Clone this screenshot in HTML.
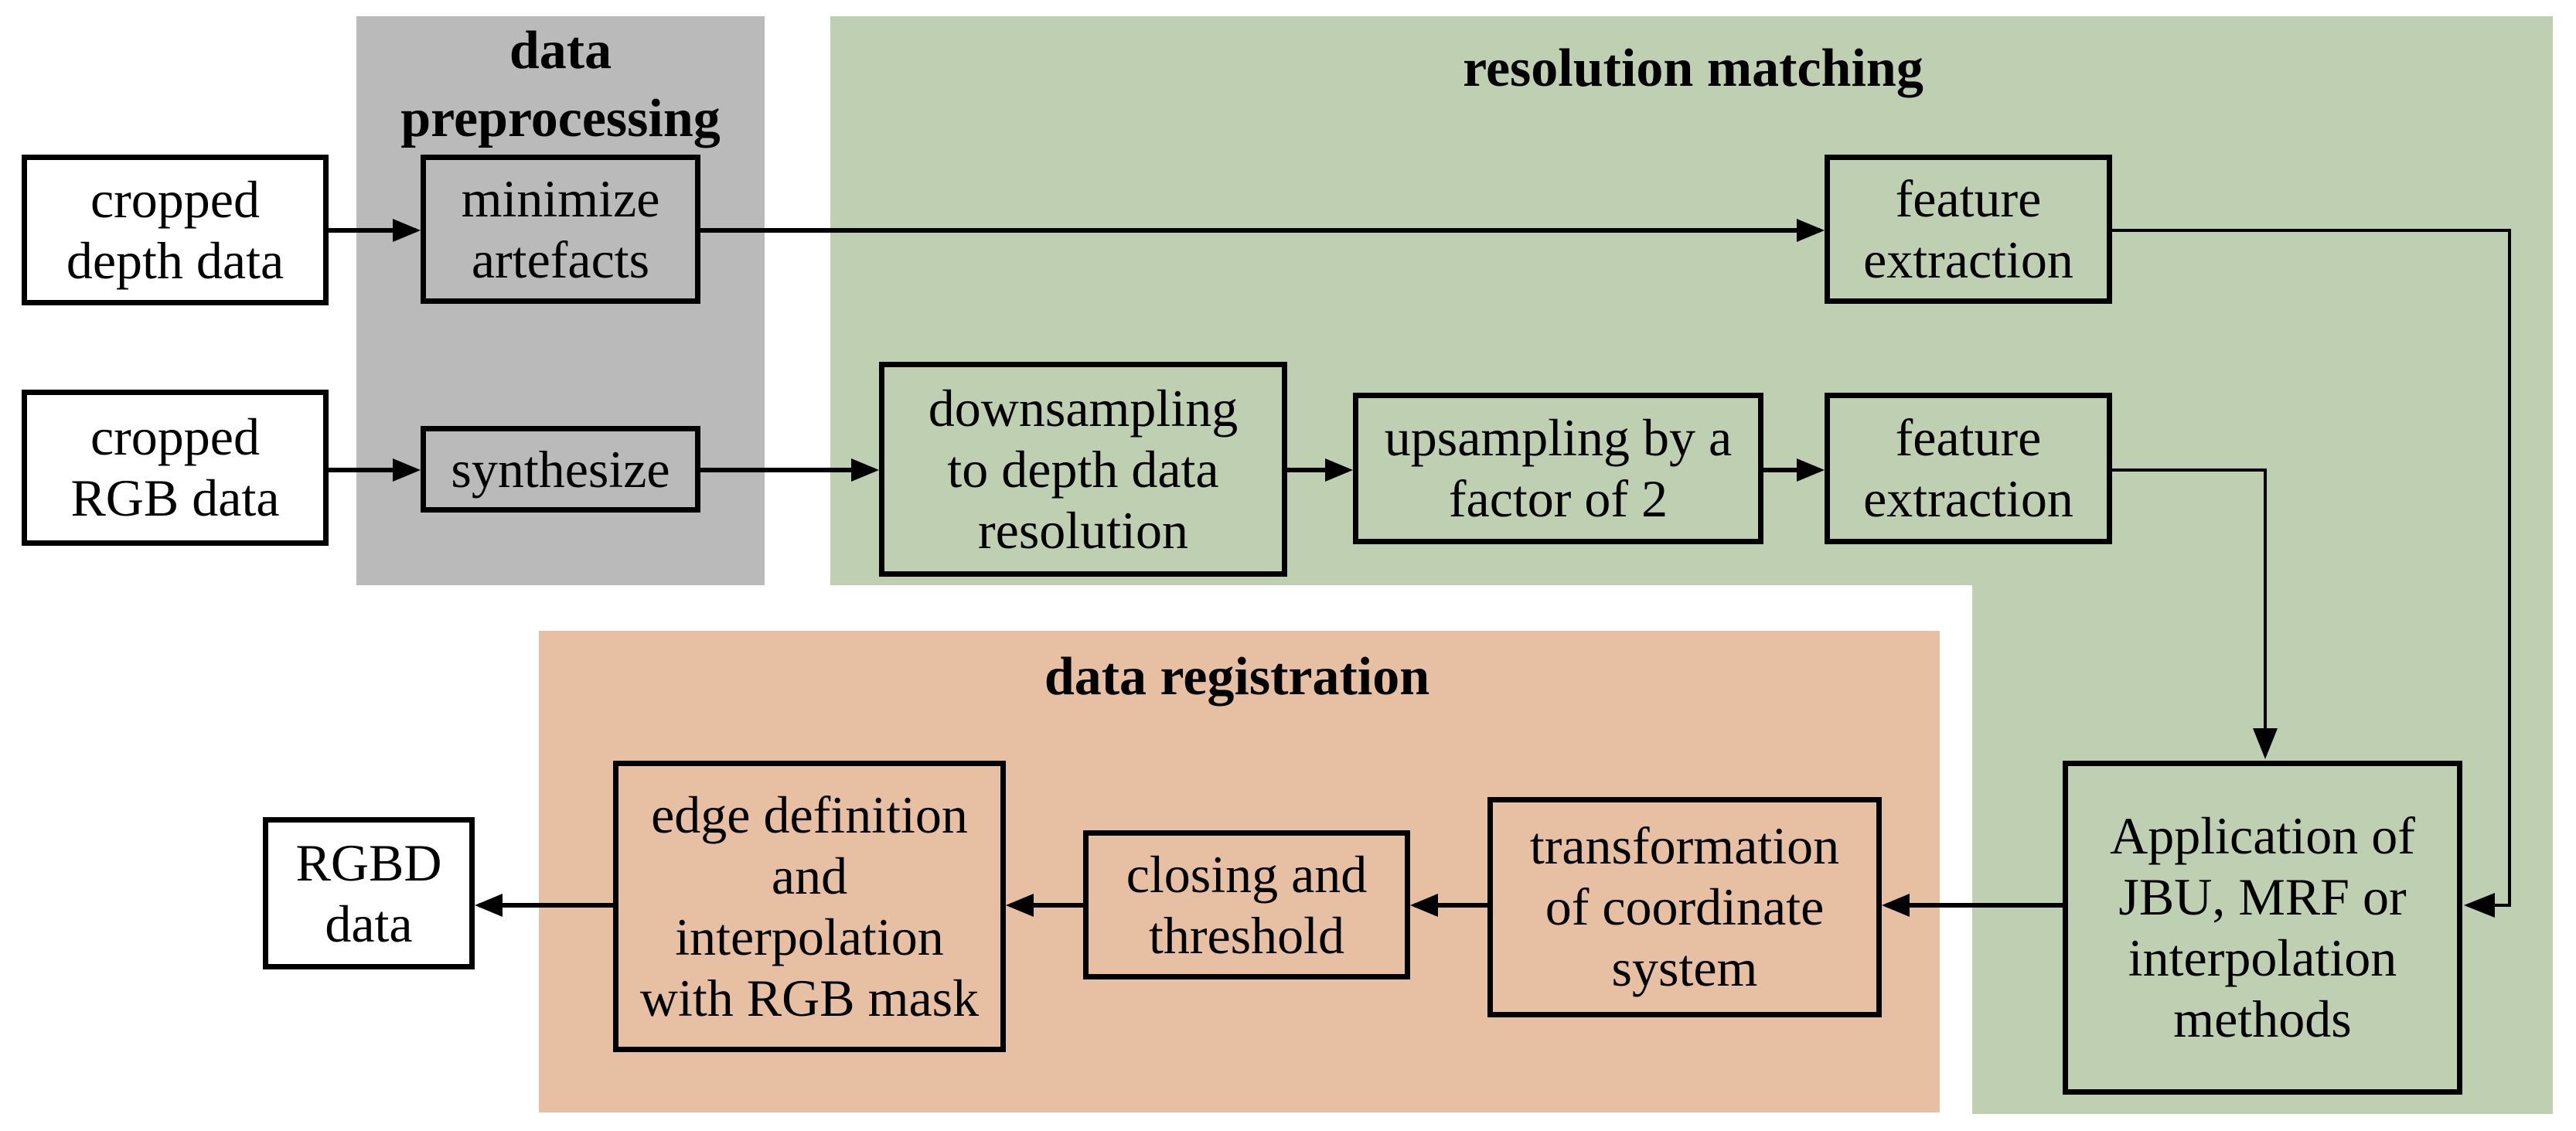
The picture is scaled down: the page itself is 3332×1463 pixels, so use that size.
<!DOCTYPE html>
<html><head><meta charset="utf-8"><style>
body{margin:0;width:3332px;height:1463px;background:#fff;position:relative;overflow:hidden;font-family:"Liberation Serif","Noto Serif CJK SC",serif;}
.p{position:absolute}
.b{position:absolute;box-sizing:border-box;border:7px solid #000;display:flex;align-items:center;justify-content:center;text-align:center;font-size:68px;line-height:79px;color:#000;font-family:"Liberation Serif","Noto Serif CJK SC",serif;font-weight:400}
.t{position:absolute;font-weight:bold;font-size:70px;line-height:88px;text-align:center;color:#000;font-family:"Liberation Serif","Noto Serif CJK SC",serif}
svg{position:absolute;left:0;top:0}
</style></head><body>
<div class="p" style="left:461px;top:21px;width:528px;height:736px;background:#bababa"></div>
<div class="p" style="left:1074px;top:21px;width:2228px;height:736px;background:#bfcfb2"></div>
<div class="p" style="left:2551px;top:740px;width:751px;height:701px;background:#bfcfb2"></div>
<div class="p" style="left:697px;top:816px;width:1812px;height:623px;background:#e7bfa3"></div>

<div class="t" style="left:461px;top:22px;width:528px">data<br>preprocessing</div>
<div class="t" style="left:1700px;top:45px;width:980px">resolution matching</div>
<div class="t" style="left:1100px;top:832px;width:1000px">data registration</div>

<svg width="3332" height="1463">
<defs><marker id="a" markerWidth="6" markerHeight="6" refX="5" refY="3" orient="auto" markerUnits="strokeWidth"><path d="M0,0.5 L6,3 L0,5.5 z" fill="#000"/></marker>
<marker id="s" markerWidth="10" markerHeight="10" refX="9" refY="5" orient="auto" markerUnits="strokeWidth"><path d="M0,1 L10,5 L0,9 z" fill="#000"/></marker></defs>
<g stroke="#000" stroke-width="6" fill="none">
<line x1="425" y1="298" x2="538" y2="298" marker-end="url(#a)"/>
<line x1="906" y1="298" x2="2354" y2="298" marker-end="url(#a)"/>
<line x1="425" y1="608" x2="538" y2="608" marker-end="url(#a)"/>
<line x1="906" y1="608" x2="1131" y2="608" marker-end="url(#a)"/>
<line x1="1665" y1="608" x2="1744" y2="608" marker-end="url(#a)"/>
<line x1="2281" y1="608" x2="2354" y2="608" marker-end="url(#a)"/>
<line x1="2668" y1="1171" x2="2440" y2="1171" marker-end="url(#a)"/>
<line x1="1924" y1="1171" x2="1830" y2="1171" marker-end="url(#a)"/>
<line x1="1401" y1="1171" x2="1307" y2="1171" marker-end="url(#a)"/>
<line x1="793" y1="1171" x2="620" y2="1171" marker-end="url(#a)"/>
</g>
<g stroke="#000" stroke-width="4" fill="none">
<polyline points="2732,298 3246,298 3246,1171 3191,1171" marker-end="url(#s)"/>
<polyline points="2732,608 2930,608 2930,978" marker-end="url(#s)"/>
</g>
</svg>

<div class="b" style="left:28px;top:200px;width:397px;height:195px;background:#fff">cropped<br>depth data</div>
<div class="b" style="left:28px;top:504px;width:397px;height:202px;background:#fff">cropped<br>RGB data</div>
<div class="b" style="left:544px;top:200px;width:362px;height:193px">minimize<br>artefacts</div>
<div class="b" style="left:544px;top:551px;width:362px;height:112px">synthesize</div>
<div class="b" style="left:2360px;top:200px;width:372px;height:193px">feature<br>extraction</div>
<div class="b" style="left:1137px;top:468px;width:528px;height:278px">downsampling<br>to depth data<br>resolution</div>
<div class="b" style="left:1750px;top:508px;width:531px;height:196px">upsampling by a<br>factor of 2</div>
<div class="b" style="left:2360px;top:508px;width:372px;height:196px">feature<br>extraction</div>
<div class="b" style="left:2668px;top:984px;width:517px;height:432px">Application of<br>JBU, MRF or<br>interpolation<br>methods</div>
<div class="b" style="left:1924px;top:1031px;width:510px;height:285px">transformation<br>of coordinate<br>system</div>
<div class="b" style="left:1401px;top:1074px;width:423px;height:193px">closing and<br>threshold</div>
<div class="b" style="left:793px;top:984px;width:508px;height:377px">edge definition<br>and<br>interpolation<br>with RGB mask</div>
<div class="b" style="left:340px;top:1057px;width:274px;height:197px;background:#fff">RGBD<br>data</div>
</body></html>
